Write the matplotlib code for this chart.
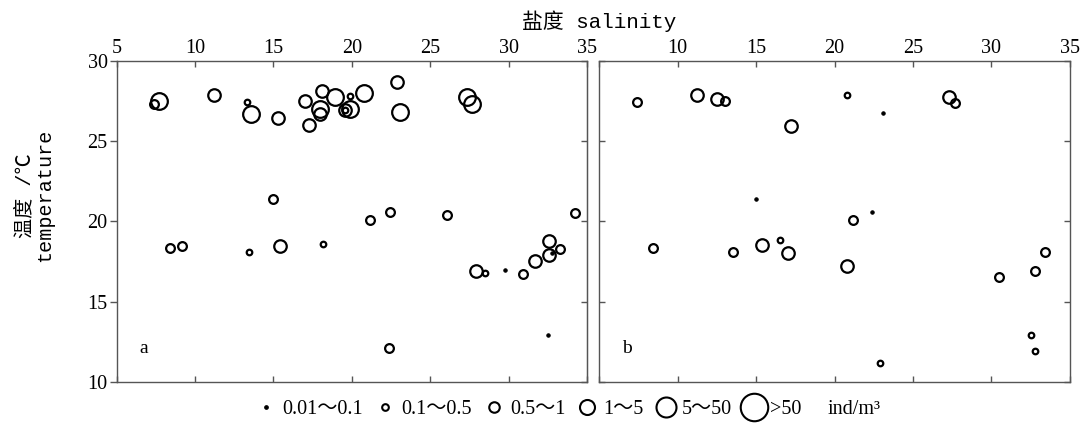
import matplotlib
matplotlib.use("Agg")
import matplotlib.pyplot as plt
from matplotlib.lines import Line2D

plt.rcParams['font.family'] = ['Liberation Serif', 'Noto Sans CJK SC']

# abundance classes (ind/m3)
class_labels = ["0.01～0.1", "0.1～0.5", "0.5～1", "1～5", "5～50", ">50"]

# panel a: salinity, temperature, abundance class index
a_salinity = [7.7, 7.4, 11.2, 13.3, 13.6, 15.3, 17.0, 18.1, 18.0, 18.0, 17.25,
              18.95, 19.9, 19.55, 19.6, 19.9, 20.75, 22.9, 23.05, 27.35, 27.65,
              15.0, 8.4, 9.15, 13.45, 15.45, 18.15, 21.15, 22.45, 26.05, 34.25,
              32.55, 32.55, 33.25, 32.75, 31.7, 27.95, 28.5, 29.8, 30.95, 32.5, 22.35]
a_temp = [27.5, 27.3, 27.85, 27.4, 26.65, 26.45, 27.5, 28.1, 27.0, 26.65, 26.0,
          27.7, 27.8, 26.9, 26.9, 27.0, 27.95, 28.65, 26.8, 27.7, 27.3,
          21.4, 18.35, 18.45, 18.1, 18.45, 18.6, 20.1, 20.6, 20.4, 20.5,
          18.75, 17.9, 18.25, 18.05, 17.55, 16.9, 16.8, 16.95, 16.75, 12.95, 12.1]
a_class = [4, 2, 3, 1, 4, 3, 3, 3, 4, 3, 3,
           4, 1, 3, 1, 4, 4, 3, 4, 4, 4,
           2, 2, 2, 1, 3, 1, 2, 2, 2, 2,
           3, 3, 2, 0, 3, 3, 1, 0, 2, 0, 2]

# panel b
b_salinity = [7.4, 11.2, 12.5, 13.0, 20.8, 23.1, 27.3, 27.7, 17.2, 15.0, 22.4,
              21.15, 8.45, 13.5, 15.4, 16.5, 17.05, 20.8, 30.45, 32.75, 33.4,
              32.5, 32.75, 22.9]
b_temp = [27.4, 27.85, 27.6, 27.45, 27.85, 26.75, 27.75, 27.35, 25.95, 21.4, 20.6,
          20.1, 18.35, 18.1, 18.5, 18.85, 18.0, 17.2, 16.55, 16.9, 18.1,
          12.95, 11.95, 11.2]
b_class = [2, 3, 3, 2, 1, 0, 3, 2, 3, 0, 0,
           2, 2, 2, 3, 1, 3, 3, 2, 2, 2,
           1, 1, 1]

marker_sizes = [2.4, 4.0, 6.3, 9.0, 12.0, 16.5]

fig = plt.figure(figsize=(10.86, 4.30), dpi=100)
ax_a = fig.add_axes([0.1073, 0.1116, 0.4332, 0.7477])
ax_b = fig.add_axes([0.5518, 0.1116, 0.4334, 0.7477])


def draw_points(ax, sal, temp, cls):
    for x, y, c in zip(sal, temp, cls):
        if c == 0:
            ax.plot(x, y, 'o', ms=marker_sizes[c], color='black', mec='black', mew=0.8)
        else:
            ax.plot(x, y, 'o', ms=marker_sizes[c], mfc='none', mec='black', mew=1.6)


for ax, sal, temp, cls, tag in [(ax_a, a_salinity, a_temp, a_class, 'a'),
                                (ax_b, b_salinity, b_temp, b_class, 'b')]:
    draw_points(ax, sal, temp, cls)
    ax.set_xlim(5, 35)
    ax.set_ylim(10, 30)
    ax.set_xticks(range(5, 36, 5))
    ax.set_yticks(range(10, 31, 5))
    for sp in ax.spines.values():
        sp.set_color('#555555')
        sp.set_linewidth(1.0)
    ax.tick_params(axis='x', which='both', direction='in', top=True, bottom=True,
                   labeltop=True, labelbottom=False, length=4, width=1.0,
                   color='#555555', labelsize=14.5, pad=2)
    ax.text(0.048, 0.09, tag, transform=ax.transAxes, fontsize=14)

ax_a.tick_params(axis='y', left=True, right=False, direction='out', length=5,
                 width=1.0, color='#555555', labelsize=14.5, pad=1.5)
# right side inward ticks for panel a
ax_a_r = ax_a.secondary_yaxis('right')
ax_a_r.set_yticks(range(10, 31, 5))
ax_a_r.tick_params(direction='in', length=4, width=1.0, color='#555555', labelright=False)
ax_a_r.spines['right'].set_color('#555555')

ax_b.tick_params(axis='y', left=True, right=True, direction='in', length=4,
                 width=1.0, color='#555555', labelleft=False)
ax_b.set_xticklabels([''] + [str(v) for v in range(10, 36, 5)])

fig.text(0.552, 0.95, "盐度 salinity", ha='center', va='center', fontsize=15,
         family=['Liberation Mono', 'Noto Sans CJK SC'])
fig.text(0.032, 0.545, "温度 /℃\ntemperature", ha='center', va='center', rotation=90,
         fontsize=14.5, linespacing=1.05, multialignment='center',
         family=['Liberation Mono', 'Noto Sans CJK SC'])

handles = []
for i, lab in enumerate(class_labels):
    if i == 0:
        h = Line2D([], [], linestyle='none', marker='o', ms=marker_sizes[i],
                   color='black', mec='black')
    else:
        h = Line2D([], [], linestyle='none', marker='o', ms=marker_sizes[i] * 1.2,
                   mfc='none', mec='black', mew=1.5)
    handles.append(h)
fig.legend(handles, class_labels, loc='center', bbox_to_anchor=(0.487, 0.047),
           ncol=6, frameon=False, fontsize=14.5, handlelength=1.0,
           handletextpad=0.3, columnspacing=0.6, borderpad=0)
fig.text(0.762, 0.047, "ind/m³", ha='left', va='center', fontsize=14.5)

fig.savefig("out.png", dpi=100)
